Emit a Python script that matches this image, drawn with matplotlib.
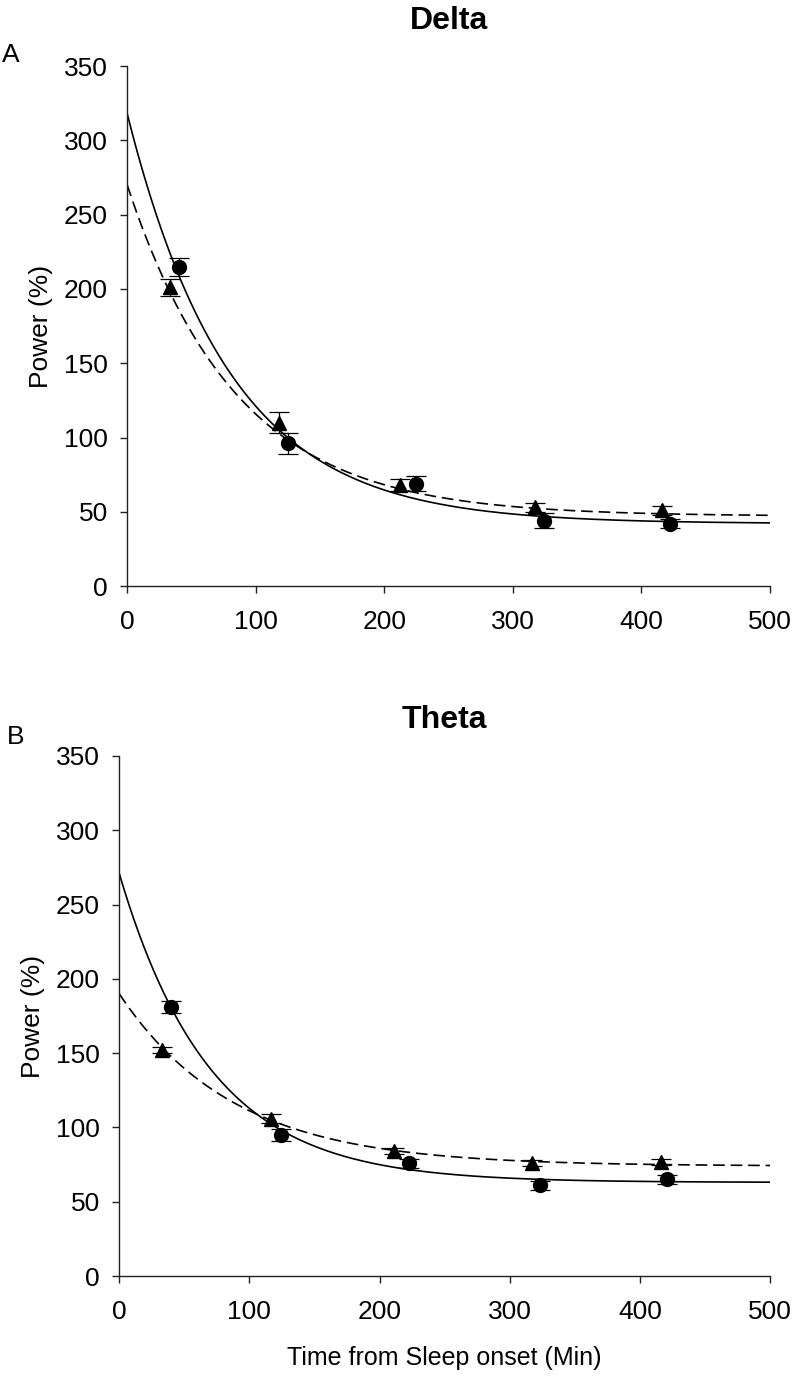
import numpy as np
import matplotlib.pyplot as plt

plt.rcParams['font.family'] = ['Liberation Sans', 'DejaVu Sans']

# Delta (panel A)
delta_circ_x = [40, 125, 225, 324, 422]
delta_circ_y = [215, 96, 69, 44, 42]
delta_circ_err = [6, 7, 5, 5, 3]
delta_tri_x = [33, 118, 212, 317, 416]
delta_tri_y = [201, 110, 68, 53, 51]
delta_tri_err = [6, 7, 4, 3, 3]
# fitted curves: asymptote, amplitude, time constant
delta_fit_solid = (42, 276, 80)
delta_fit_dash = (47, 223, 85)

# Theta (panel B)
theta_circ_x = [40, 124, 223, 323, 421]
theta_circ_y = [181, 95, 76, 61, 65]
theta_circ_err = [4, 4, 3, 3, 3]
theta_tri_x = [33, 117, 211, 317, 416]
theta_tri_y = [152, 106, 84, 76, 77]
theta_tri_err = [2, 3, 2, 2, 2]
theta_fit_solid = (63, 208, 70)
theta_fit_dash = (74, 116, 88)

x_ticks = [0, 100, 200, 300, 400, 500]
y_ticks = [0, 50, 100, 150, 200, 250, 300, 350]


def fit_curve(x, p):
    a, b, tau = p
    return a + b * np.exp(-x / tau)


def draw_panel(ax, title, title_pad, cx, cy, ce, tx, ty, te, fs, fd):
    xx = np.linspace(0, 500, 400)
    ax.plot(xx, fit_curve(xx, fs), color='black', lw=1.2)
    ax.plot(xx, fit_curve(xx, fd), color='black', lw=1.2, dashes=(7, 3.5))
    ax.errorbar(cx, cy, yerr=ce, fmt='o', color='black', ms=10,
                capsize=7, elinewidth=0.9, capthick=0.9)
    ax.errorbar(tx, ty, yerr=te, fmt='^', color='black', ms=10,
                capsize=7, elinewidth=0.9, capthick=0.9)
    ax.set_xlim(0, 500)
    ax.set_ylim(0, 350)
    ax.set_xticks(x_ticks)
    ax.set_yticks(y_ticks)
    ax.spines['top'].set_visible(False)
    ax.spines['right'].set_visible(False)
    for s in ['left', 'bottom']:
        ax.spines[s].set_linewidth(1.0)
        ax.spines[s].set_color('#222222')
    ax.tick_params(direction='out', length=5, width=1.0, labelsize=19,
                   color='#222222')
    ax.tick_params(axis='x', pad=12)
    ax.tick_params(axis='y', pad=9)
    ax.set_ylabel('Power (%)', fontsize=19, labelpad=8)
    ax.set_title(title, fontsize=23, fontweight='bold', pad=title_pad)
    return ax


fig = plt.figure(figsize=(8, 13.78), dpi=100)
ax1 = fig.add_axes([0.159, 0.5747, 0.8035, 0.3773])
ax2 = fig.add_axes([0.149, 0.074, 0.8135, 0.3774])

draw_panel(ax1, 'Delta', 27, delta_circ_x, delta_circ_y, delta_circ_err,
           delta_tri_x, delta_tri_y, delta_tri_err, delta_fit_solid, delta_fit_dash)
draw_panel(ax2, 'Theta', 20, theta_circ_x, theta_circ_y, theta_circ_err,
           theta_tri_x, theta_tri_y, theta_tri_err, theta_fit_solid, theta_fit_dash)
ax2.set_xlabel('Time from Sleep onset (Min)', fontsize=18, labelpad=16)

fig.text(0.013, 1 - 55 / 1378, 'A', fontsize=19, va='center', ha='center')
fig.text(0.019, 1 - 737 / 1378, 'B', fontsize=19, va='center', ha='center')

plt.savefig('out.png', dpi=100)
